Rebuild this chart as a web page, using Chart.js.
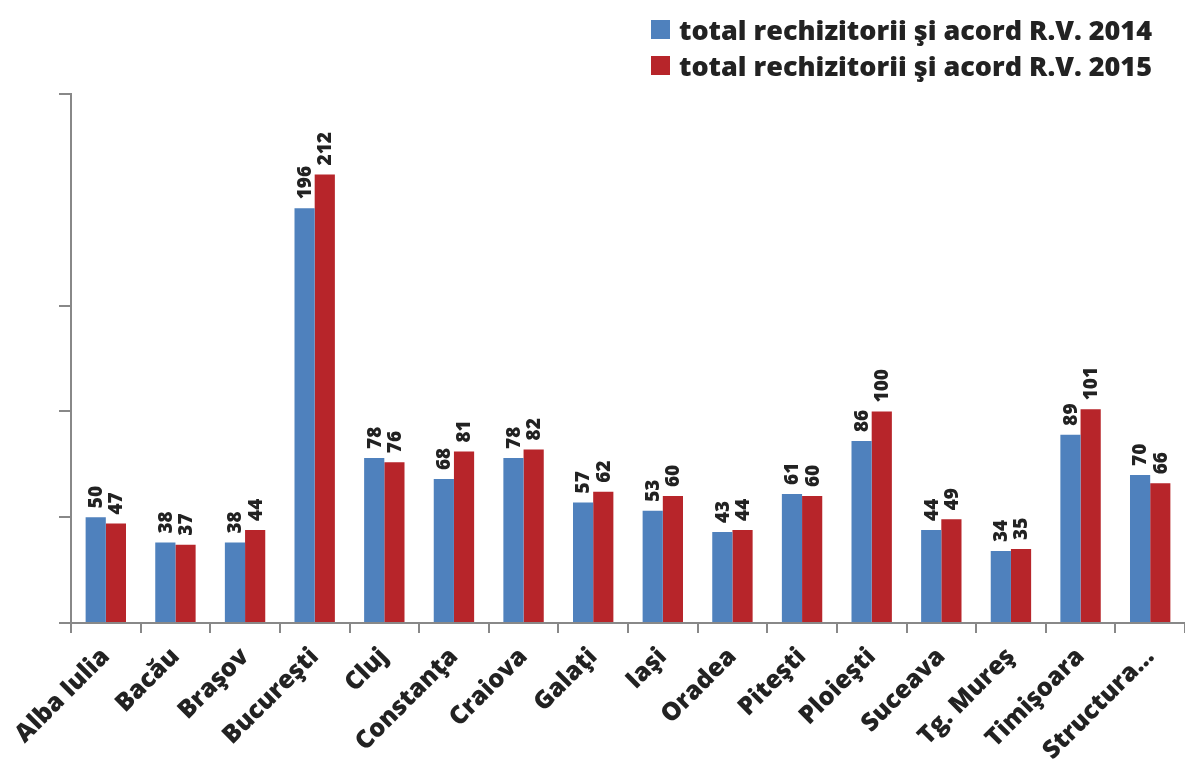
<!DOCTYPE html>
<html>
<head>
<meta charset="utf-8">
<script src="https://cdn.jsdelivr.net/npm/chart.js@4"></script>
<style>
  body { margin: 0; background: #fff; }
  #wrap { position: relative; width: 1185px; height: 763px; }
  #legend { position: absolute; left: 651px; top: 11px; font: 800 27px "Open Sans", sans-serif; color: #222; }
  #legend div { height: 36px; display: flex; align-items: center; white-space: nowrap; }
  #legend span { display: inline-block; width: 19px; height: 19px; margin-right: 9px; }
</style>
</head>
<body>
<div id="wrap">
  <canvas id="barChart"></canvas>
  <div id="legend"></div>
</div>
<script>
// Data
const categories = ['Alba Iulia', 'Bacău', 'Braşov', 'Bucureşti', 'Cluj', 'Constanţa', 'Craiova', 'Galaţi',
    'Iaşi', 'Oradea', 'Piteşti', 'Ploieşti', 'Suceava', 'Tg. Mureş', 'Timişoara', 'Structura…'];
const values2014 = [50, 38, 38, 196, 78, 68, 78, 57, 53, 43, 61, 86, 44, 34, 89, 70];
const values2015 = [47, 37, 44, 212, 76, 81, 82, 62, 60, 44, 60, 100, 49, 35, 101, 66];
const seriesLabels = ['total rechizitorii şi acord R.V. 2014', 'total rechizitorii şi acord R.V. 2015'];
const colors = ['#4f81bd', '#b7252a'];

const axisColor = '#888888';
const textColor = '#222222';
const fontFamily = '"Open Sans", sans-serif';

// Value labels, rotated, above each bar
const barValueLabels = {
    id: 'barValueLabels',
    afterDatasetsDraw(chart) {
        const ctx = chart.ctx;
        ctx.save();
        ctx.font = `800 19px ${fontFamily}`;
        ctx.fillStyle = textColor;
        ctx.textAlign = 'left';
        ctx.textBaseline = 'middle';
        chart.data.datasets.forEach((ds, i) => {
            chart.getDatasetMeta(i).data.forEach((bar, j) => {
                ctx.save();
                ctx.translate(bar.x, bar.y - 9);
                ctx.rotate(-Math.PI / 2);
                ctx.fillText(String(ds.data[j]), 0, 1);
                ctx.restore();
            });
        });
        ctx.restore();
    }
};

const chart = new Chart(document.getElementById('barChart'), {
    type: 'bar',
    data: {
        labels: categories,
        datasets: [
            { label: seriesLabels[0], data: values2014, backgroundColor: colors[0] },
            { label: seriesLabels[1], data: values2015, backgroundColor: colors[1] }
        ]
    },
    options: {
        responsive: true,
        maintainAspectRatio: false,
        animation: false,
        categoryPercentage: 0.58,
        barPercentage: 1,
        layout: {
            padding: { left: 59, top: 94, right: 0, bottom: 0 }
        },
        scales: {
            x: {
                afterFit: scale => { scale.height = 140; },
                grid: {
                    drawOnChartArea: false,
                    color: axisColor,
                    lineWidth: 2,
                    tickLength: 10
                },
                border: { color: axisColor, width: 2 },
                ticks: {
                    autoSkip: false,
                    minRotation: 45,
                    maxRotation: 45,
                    padding: 9,
                    color: textColor,
                    font: { family: fontFamily, size: 25, weight: 800 }
                }
            },
            y: {
                min: 0,
                max: 250,
                ticks: { display: false, stepSize: 50 },
                grid: {
                    drawOnChartArea: false,
                    color: axisColor,
                    // the 200 mark is not drawn in the original
                    tickColor: c => (c.tick && c.tick.value === 200 ? 'rgba(0,0,0,0)' : axisColor),
                    lineWidth: 2,
                    tickLength: 12
                },
                border: { color: axisColor, width: 2 }
            }
        },
        plugins: {
            legend: { display: false },
            tooltip: { enabled: false }
        }
    },
    plugins: [barValueLabels]
});

// HTML legend
document.getElementById('legend').innerHTML = seriesLabels
    .map((label, i) => `<div><span style="background:${colors[i]}"></span>${label}</div>`)
    .join('');
</script>
</body>
</html>
